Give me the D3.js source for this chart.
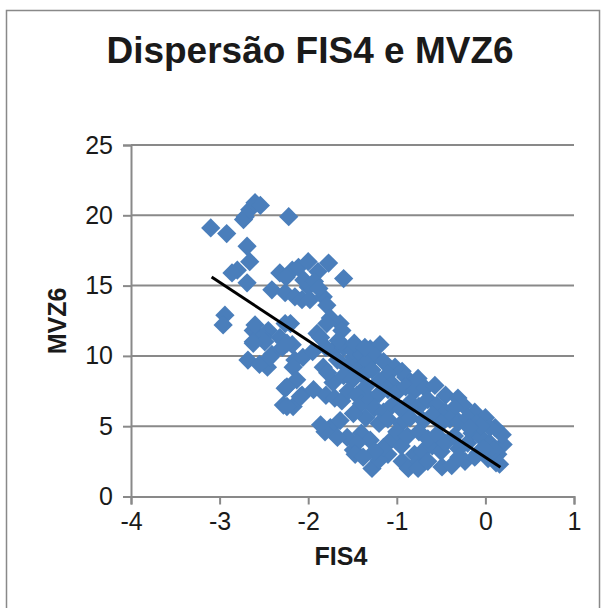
<!DOCTYPE html>
<html>
<head>
<meta charset="utf-8">
<script src="https://cdn.jsdelivr.net/npm/d3@7"></script>
<style>
  body { margin: 0; background: #fff; }
  svg text { font-family: "Liberation Sans", Arial, sans-serif; fill: #1a1a1a; }
</style>
</head>
<body>
<div id="chart"></div>
<script>
// Chart values
var chartTitle = "Dispersão FIS4 e MVZ6";
var xTicks = [-4, -3, -2, -1, 0, 1];
var yTicks = [0, 5, 10, 15, 20, 25];

var fis4 = [
  -3.10, -2.92, -2.73, -2.71, -2.66, -2.60, -2.54, -2.22, -2.69, -2.66, -2.80, -2.86, -2.69, -2.94, -2.96,
  -2.41, -2.32, -2.26, -2.18, -2.11, -2.15, -2.07, -2.00, -1.89, -1.77, -1.60, -2.00, -1.98, -1.83, -1.79, -2.05, -1.93, -2.25, -1.88,
  -2.62, -2.60, -2.45, -2.26, -2.20, -1.75, -1.64, -1.62, -1.90, -1.86, -1.79, -2.51, -2.32,
  -2.68, -2.62, -2.49, -2.41, -2.46, -2.29, -2.18, -2.15, -2.55, -2.43, -2.62, -2.24, -2.17, -2.06,
  -2.26, -2.28, -2.17, -2.07, -2.13, -2.24, -2.09, -1.94, -2.24,
  -1.72, -1.83, -1.67, -1.72, -1.56, -1.49, -1.95, -1.80, -1.60, -1.50, -1.40, -1.30, -1.19, -1.25, -1.35, -1.45, -1.38,
  -1.28, -1.15, -1.02, -0.94, -1.10, -0.90, -0.85, -1.20, -1.05, -1.60, -1.50, -1.35, -1.78, -1.66, -1.48, -1.36,
  -1.80, -1.70, -1.62, -1.55, -1.45, -1.40, -1.30, -1.20, -1.10, -1.00, -0.90, -0.80, -0.76, -0.68, -0.57, -0.45, -0.31,
  -0.25, -0.12, 0.00, -1.25, -1.15, -1.05, -0.95, -0.85, -0.75, -0.65, -0.55, -0.45, -0.35, -0.40, -0.30, -0.20, -0.10,
  -1.35, -1.20, -1.10, -0.95, -0.85, -0.70, -0.60, -0.50,
  -1.75, -1.64, -1.49, -1.56, -1.49, -1.67, -1.81, -1.86, -1.40, -1.30, -1.45,
  -1.47, -1.28, -1.10, -0.94, -0.87, -1.20, -1.15, -1.25, -1.05, -0.95, -0.80, -0.75, -0.71, -0.76, -0.65, -0.60, -0.50,
  -0.49, -0.38, -0.23, -0.08, 0.03, 0.14, 0.20, 0.19, 0.11, -1.00, -0.88, -0.75, -0.65, -0.55, -0.45, -0.35, -0.30,
  -0.20, -0.15, -0.05, 0.05, 0.10, -0.02, -0.12, 0.12, -0.30, 0.05, -0.05, -0.18, 0.16, -1.38
];
var mvz6 = [
  19.1, 18.7, 19.7, 19.9, 20.4, 20.9, 20.7, 19.9, 17.8, 16.7, 16.1, 15.9, 15.2, 12.9, 12.2,
  14.7, 15.9, 14.5, 16.1, 16.3, 14.2, 14.0, 16.7, 16.0, 16.6, 15.5, 14.9, 14.0, 14.2, 13.6, 15.4, 15.3, 15.6, 14.8,
  11.8, 12.2, 11.8, 12.3, 12.3, 12.7, 12.3, 11.8, 11.6, 11.3, 12.3, 11.3, 11.3,
  9.7, 11.0, 11.0, 10.1, 9.2, 10.6, 10.8, 9.7, 9.4, 9.9, 10.9, 10.9, 9.2, 9.9,
  7.7, 6.5, 6.4, 7.2, 8.3, 7.8, 7.1, 7.6, 6.4,
  10.4, 9.2, 9.7, 8.1, 9.2, 9.9, 10.3, 10.6, 10.6, 10.4, 10.1, 10.5, 10.8, 10.0, 9.5, 8.9, 8.6,
  9.0, 9.6, 9.2, 8.9, 8.7, 8.5, 8.1, 8.2, 8.0, 8.6, 8.3, 7.8, 8.8, 11.1, 10.9, 10.6,
  7.2, 7.0, 6.8, 7.5, 7.2, 6.6, 6.9, 7.3, 7.6, 7.4, 7.8, 7.5, 8.4, 7.7, 7.9, 7.2, 7.0,
  6.5, 6.0, 5.6, 6.3, 6.0, 6.5, 6.2, 6.7, 6.4, 6.9, 6.5, 6.0, 6.3, 5.5, 5.3, 5.6, 5.2,
  5.6, 5.2, 5.5, 5.2, 5.6, 5.4, 5.8, 5.2,
  4.9, 5.4, 5.9, 4.2, 3.3, 4.2, 4.6, 5.1, 4.5, 4.0, 3.8,
  3.0, 2.0, 3.0, 2.5, 2.0, 2.6, 3.5, 3.2, 4.1, 3.6, 3.0, 2.5, 3.2, 2.0, 2.5, 3.6, 3.2,
  2.1, 2.2, 2.5, 3.1, 2.7, 3.0, 3.7, 4.4, 4.9, 4.6, 4.3, 4.6, 4.1, 4.4, 3.8, 4.3, 3.4,
  3.8, 4.5, 4.2, 3.8, 3.3, 3.4, 2.8, 2.4, 2.8, 4.9, 5.0, 4.9, 2.3, 2.8
];

// linear trend line end points
var trendX = [-3.09, 0.17];
var trendY = [15.61, 2.08];

var points = fis4.map(function(v, i) { return { x: v, y: mvz6[i] }; });
var trend = trendX.map(function(v, i) { return { x: v, y: trendY[i] }; });

var width = 604, height = 608;
var grey = "#898989";

var svg = d3.select("#chart").append("svg")
    .attr("width", width)
    .attr("height", height);

// outer frame
svg.append("rect")
    .attr("x", 6.5).attr("y", 10.5)
    .attr("width", 593).attr("height", 620)
    .attr("fill", "none")
    .attr("stroke", grey)
    .attr("stroke-width", 1.5);

// scales
var xScale = d3.scaleLinear().domain([-4, 1]).range([131, 574]);
var yScale = d3.scaleLinear().domain([0, 25]).range([496.5, 145]);

// horizontal gridlines
svg.append("g").selectAll("line")
    .data(yTicks.filter(function(d) { return d > 0; }))
    .enter().append("line")
    .attr("x1", xScale(-4)).attr("x2", xScale(1))
    .attr("y1", d => yScale(d)).attr("y2", d => yScale(d))
    .attr("stroke", grey).attr("stroke-width", 2);

// axes (plain hyphen for negatives)
var fmt = function(d) { return String(d); };
var leftAxis = d3.axisLeft(yScale).tickValues(yTicks).tickFormat(fmt).tickSize(8).tickPadding(10);
var bottomAxis = d3.axisBottom(xScale).tickValues(xTicks).tickFormat(fmt).tickSize(8).tickPadding(8);

var gy = svg.append("g")
    .attr("transform", `translate(${xScale(-4)},0)`)
    .call(leftAxis);
var gx = svg.append("g")
    .attr("transform", `translate(0,${yScale(0)})`)
    .call(bottomAxis);

[gx, gy].forEach(function(g) {
    g.select(".domain").attr("stroke", grey).attr("stroke-width", 2);
    g.selectAll(".tick line").attr("stroke", grey).attr("stroke-width", 2);
    g.selectAll(".tick text")
        .attr("font-size", 25)
        .attr("font-family", "Liberation Sans, Arial, sans-serif")
        .attr("fill", "#1a1a1a");
});

// points (diamonds)
var diamond = d3.symbol().type(d3.symbolSquare).size(186);
svg.append("g").selectAll("path")
    .data(points)
    .enter().append("path")
    .attr("d", diamond)
    .attr("transform", d => `translate(${xScale(d.x)},${yScale(d.y)}) rotate(45)`)
    .attr("fill", "#4a7ebb");

// trend line
svg.append("path")
    .datum(trend)
    .attr("d", d3.line().x(d => xScale(d.x)).y(d => yScale(d.y)))
    .attr("stroke", "#000")
    .attr("stroke-width", 3)
    .attr("fill", "none");

// title and axis titles
svg.append("text")
    .attr("x", 310).attr("y", 63)
    .attr("text-anchor", "middle")
    .attr("font-size", 37)
    .attr("font-weight", "bold")
    .text(chartTitle);

svg.append("text")
    .attr("x", 341).attr("y", 565)
    .attr("text-anchor", "middle")
    .attr("font-size", 25)
    .attr("font-weight", "bold")
    .text("FIS4");

svg.append("text")
    .attr("transform", "translate(66,321) rotate(-90)")
    .attr("text-anchor", "middle")
    .attr("font-size", 25)
    .attr("font-weight", "bold")
    .text("MVZ6");
</script>
</body>
</html>
